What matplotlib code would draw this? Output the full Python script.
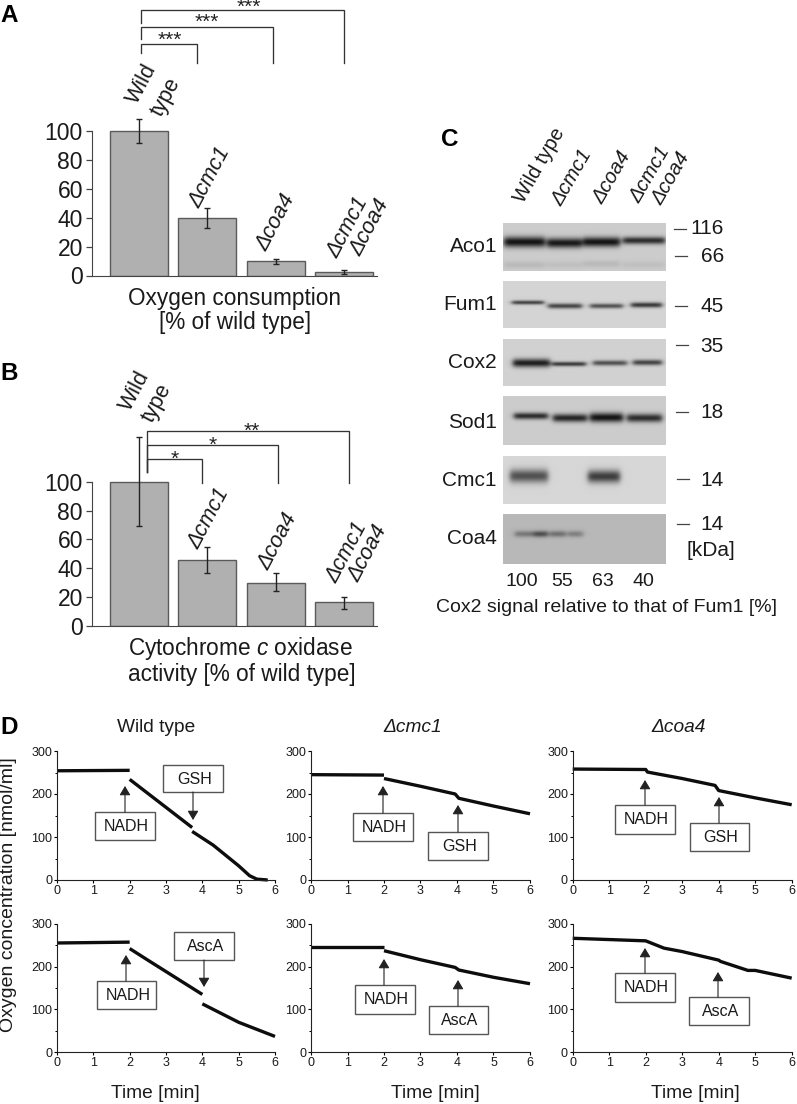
import numpy as np
import matplotlib
matplotlib.use("Agg")
import matplotlib.pyplot as plt
from matplotlib.patches import Rectangle

plt.rcParams['font.family'] = ['Liberation Sans', 'DejaVu Sans']
plt.rcParams['mathtext.fontset'] = 'custom'
plt.rcParams['mathtext.rm'] = 'Liberation Sans'
plt.rcParams['mathtext.it'] = 'Liberation Sans:italic'

W, H = 797, 1104
INK = '#1a1a1a'

# ---- data ----
strains = ['Wild type', 'Δcmc1', 'Δcoa4', 'Δcmc1 Δcoa4']
oxygen_values = [100, 40, 10, 2.5]
oxygen_low = [92, 33, 8, 1]
oxygen_high = [108, 47, 11.5, 3.5]
cox_values = [100, 46, 30, 16.5]
cox_low = [69, 37, 24, 12]
cox_high = [131, 55, 37, 20]
bar_ticks = [0, 20, 40, 60, 80, 100]

kda_labels = ['116', '66', '45', '35', '18', '14', '14']
blot_names = ['Aco1', 'Fum1', 'Cox2', 'Sod1', 'Cmc1', 'Coa4']
cox2_ratio = ['100', '55', '63', '40']

wt_gsh_t = [[0, 2], [2.0, 3.72], [3.72, 4.3, 5.0, 5.3, 5.5, 5.8]]
wt_gsh_o = [[254, 255], [234, 122], [113, 81, 33, 10, 2, 0]]
wt_asc_t = [[0, 2], [2.0, 2.5, 4.0], [4.0, 5.0, 6.0]]
wt_asc_o = [[255, 257], [242, 215, 135], [113, 70, 37]]
cmc_gsh_t = [[0, 2], [2.0, 3, 3.95, 4.05, 5.0, 6.0]]
cmc_gsh_o = [[245, 244], [236, 218, 200, 190, 172, 154]]
cmc_asc_t = [[0, 2], [2.0, 3, 3.95, 4.05, 5.0, 6.0]]
cmc_asc_o = [[246, 246], [237, 216, 198, 192, 175, 160]]
coa_gsh_t = [[0, 1.9, 2.0, 2.05, 3.0, 3.9, 4.0, 5.0, 6.0]]
coa_gsh_o = [[258, 257, 257, 251, 236, 220, 208, 191, 175]]
coa_asc_t = [[0, 1.0, 2.0, 2.5, 3.0, 4.0, 4.05, 4.8, 5.0, 6.0]]
coa_asc_o = [[266, 263, 260, 243, 235, 215, 212, 191, 191, 173]]
time_ticks = [0, 1, 2, 3, 4, 5, 6]
o2_ticks = [0, 100, 200, 300]


def px_axes(x0, x1, ytop, ybot, **kw):
    return fig.add_axes([x0 / W, 1 - ybot / H, (x1 - x0) / W, (ybot - ytop) / H], **kw)


fig = plt.figure(figsize=(W / 100, H / 100), dpi=100, facecolor='white')


def bar_panel(y0px, y100px, vals, lo, hi):
    per = (y0px - y100px) / 100
    top = y0px - 135 * per
    ax = px_axes(92, 377, top, y0px)
    ax.patch.set_alpha(0)
    ax.set_xlim(-0.688, 3.48)
    ax.set_ylim(0, 135)
    xs = np.arange(len(vals))
    ax.bar(xs, vals, width=0.85, color='#b0b0b0', edgecolor='#5a5a5a', linewidth=1.0)
    v = np.array(vals)
    ax.errorbar(xs, vals, yerr=[v - np.array(lo), np.array(hi) - v], fmt='none',
                ecolor='#222222', elinewidth=1.0, capsize=2.2, capthick=1.0)
    for s in ['top', 'right']:
        ax.spines[s].set_visible(False)
    ax.spines['left'].set_bounds(0, 100)
    ax.spines['left'].set_color('#444444')
    ax.spines['bottom'].set_color('#444444')
    ax.set_xticks([])
    ax.set_yticks(bar_ticks)
    ax.tick_params(axis='y', length=4.5, width=0.9, labelsize=16.5, pad=2, color='#444444', labelcolor=INK)
    return ax


bar_panel(275.5, 131, oxygen_values, oxygen_low, oxygen_high)
bar_panel(626, 481.7, cox_values, cox_low, cox_high)

# ---- panel D ----
cols = [(57, 275), (311, 530), (572.7, 791.7)]
rows = [(751, 880), (923.7, 1052.3)]
series = [[(wt_gsh_t, wt_gsh_o), (cmc_gsh_t, cmc_gsh_o), (coa_gsh_t, coa_gsh_o)],
          [(wt_asc_t, wt_asc_o), (cmc_asc_t, cmc_asc_o), (coa_asc_t, coa_asc_o)]]
for r, (yt, yb) in enumerate(rows):
    for c, (xl, xr) in enumerate(cols):
        ax = px_axes(xl, xr, yt, yb)
        ax.patch.set_alpha(0)
        ax.set_xlim(0, 6)
        ax.set_ylim(0, 300)
        for t, o in zip(*series[r][c]):
            ax.plot(t, o, color='#0d0d0d', lw=2.4, solid_capstyle='butt', clip_on=False)
        for s in ['top', 'right']:
            ax.spines[s].set_visible(False)
        ax.spines['left'].set_color('#222222')
        ax.spines['bottom'].set_color('#222222')
        ax.set_xticks(time_ticks)
        ax.set_yticks(o2_ticks)
        ax.set_yticks([50, 150, 250], minor=True)
        ax.tick_params(axis='both', which='major', length=2.2, width=0.8, labelsize=9,
                       pad=1.2, labelcolor=INK)
        ax.tick_params(axis='y', which='minor', length=1.5, width=0.7)

# ---- overlay in pixel coordinates ----
ov = fig.add_axes([0, 0, 1, 1])
ov.patch.set_alpha(0)
ov.axis('off')


def T(x, y, s, size=16.3, ha='center', va='center', **kw):
    kw.setdefault('color', INK)
    ov.text(x, y, s, fontsize=size, ha=ha, va=va, **kw)


def rot(x, y, s, size=15.5, angle=62):
    T(x, y, s, size=size, rotation=angle, rotation_mode='anchor', style='italic' if 'Δ' in s else 'normal')


# panel letters
for x, y, s in [(0, 15, 'A'), (0, 373, 'B'), (441, 139, 'C'), (0, 727, 'D')]:
    T(x, y, s, size=17.5, ha='left', weight='bold', color='black')

# bar labels
for x, y, s in [(142, 84, 'Wild'), (166, 97, 'type'), (210, 177, 'Δcmc1'), (276, 222, 'Δcoa4'),
                (348, 227, 'Δcmc1'), (370, 227, 'Δcoa4'),
                (135, 391, 'Wild'), (157, 403, 'type'), (209, 518, 'Δcmc1'), (278, 541, 'Δcoa4'),
                (347, 552, 'Δcmc1'), (368, 553, 'Δcoa4')]:
    rot(x, y, s)
T(235, 298, 'Oxygen consumption')
T(235, 323, '[% of wild type]')
T(128, 648, r'Cytochrome $\mathit{c}$ oxidase', ha='left')
T(128, 675, 'activity [% of wild type]', ha='left')


# brackets
def bracket(xl, xr, y, yl, yr):
    ov.plot([xl, xl, xr, xr], [yl, y, y, yr], color='#333333', lw=0.95, solid_joinstyle='miter')


bracket(141, 344, 10, 23, 63)
bracket(141, 273, 27, 39, 63)
bracket(141, 197, 44, 53, 63)
for x, y, s in [(249, 7, '***'), (207, 22, '***'), (170, 40, '***'),
                (252, 431, '**'), (213, 445, '*'), (175, 459, '*')]:
    T(x, y, s, size=15, color='#222222')
bracket(146.7, 349, 431, 472, 483)
bracket(146.7, 278, 445, 472, 483)
bracket(146.7, 202, 459, 472, 483)


# blots
def blot(y0, y1, bg, bands):
    x0, x1 = 503, 666
    xx, yy = np.meshgrid(np.arange(x0, x1) + .5, np.arange(y0, y1) + .5)
    img = np.full(xx.shape, bg, dtype=float)
    for a, b, yc, sig, d in bands:
        env = 0.5 * (np.tanh((xx - a) / 3.0) - np.tanh((xx - b) / 3.0))
        img -= d * env * np.exp(-0.5 * ((yy - yc) / (sig * 1.25)) ** 2)
    ov.imshow(np.clip(img, 0, 1), extent=(x0, x1, y1, y0), cmap='gray', vmin=0, vmax=1,
              aspect='auto', interpolation='bilinear', zorder=1)


blot(223, 271, .80, [(504, 545, 242, 3.0, .72), (547, 582, 243, 2.8, .70), (583, 620, 242, 2.8, .72),
                     (623, 665, 240.5, 2.1, .62),
                     (504, 545, 265, 2.0, .07), (547, 582, 265, 2.0, .05), (583, 620, 264, 2.0, .07),
                     (623, 665, 265, 2.0, .05)])
blot(281, 328, .83, [(512, 544, 302.5, 1.2, .55), (548, 582, 306, 1.5, .55), (590, 623, 306, 1.4, .50),
                     (631, 662, 305, 1.5, .60)])
blot(339, 386, .82, [(513, 550, 363, 2.4, .70), (552, 586, 364, 1.3, .58), (593, 627, 363, 1.5, .50),
                     (633, 662, 362.5, 1.6, .55)])
blot(396, 445, .80, [(514, 548, 416, 1.9, .62), (553, 587, 418, 2.3, .65), (590, 623, 417.5, 2.7, .72),
                     (627, 662, 418, 2.4, .62)])
blot(456, 504, .84, [(510, 548, 476, 3.8, .52), (588, 620, 476.5, 3.6, .60)])
blot(514, 564, .72, [(515, 534, 534, 1.8, .25), (534, 548, 534, 1.8, .42), (550, 566, 534, 1.8, .28),
                     (568, 583, 534, 1.8, .22)])

for y, s in zip([247, 305, 363, 422, 480, 538], blot_names):
    T(497, y, s, size=15, ha='right')
for x, y, s in [(540, 165, 'Wild type'), (572, 178, 'Δcmc1'), (612, 177, 'Δcoa4'),
                (650, 175, 'Δcmc1'), (671, 178, 'Δcoa4')]:
    rot(x, y, s, size=14.5, angle=60)

for y, dy, xa, s in zip([229, 256, 307, 347, 413, 480, 525], [229, 256, 306, 345, 412, 479, 524],
                        [674, 675, 675, 676, 676, 677, 677], kda_labels):
    T(724, y, s, size=15, ha='right')
    ov.plot([xa, xa + 12], [dy, dy], color='#444444', lw=0.9)
T(735, 550, '[kDa]', size=15, ha='right')
for x, s in zip([522, 562, 603, 643], cox2_ratio):
    T(x, 581, s, size=14)
T(607, 607, 'Cox2 signal relative to that of Fum1 [%]', size=14)

# panel D text
T(156, 727, 'Wild type', size=13.8)
T(413, 727, 'Δcmc1', size=13.8, style='italic')
T(679, 727, 'Δcoa4', size=13.8, style='italic')
for x in [155, 435, 695]:
    T(x, 1093, 'Time [min]', size=13.8)
T(9, 895, 'Oxygen concentration [nmol/ml]', size=14, rotation=90)


def callout(x0, x1, y0, y1, s, ax_x, start, tip):
    ov.add_patch(Rectangle((x0, y0), x1 - x0, y1 - y0, facecolor='white', edgecolor='#555555',
                           lw=1.0, zorder=4))
    T((x0 + x1) / 2 + 1.5, (y0 + y1) / 2 + 0.5, s, size=11.5, zorder=5)
    ov.annotate('', xy=(ax_x, tip), xytext=(ax_x, start), zorder=5,
                arrowprops=dict(arrowstyle='-|>,head_length=0.55,head_width=0.33', color='#222222',
                                lw=0.8, shrinkA=0, shrinkB=0))


callout(163, 223, 765, 792, 'GSH', 193, 792, 820)
callout(95, 155, 812, 840, 'NADH', 125, 812, 786)
callout(174, 234, 932, 960, 'AscA', 204, 960, 987)
callout(97, 156, 981, 1009, 'NADH', 126, 981, 955)
callout(353, 413, 813, 841, 'NADH', 383, 813, 786)
callout(428, 488, 832, 860, 'GSH', 458, 832, 805)
callout(355, 415, 985, 1014, 'NADH', 384, 985, 959)
callout(429, 488, 1006, 1034, 'AscA', 458, 1006, 980)
callout(615, 675, 805, 834, 'NADH', 645, 805, 780)
callout(690, 749, 823, 851, 'GSH', 719, 823, 797)
callout(615, 675, 973, 1002, 'NADH', 645, 973, 948)
callout(689, 749, 997, 1025, 'AscA', 718, 997, 972)

ov.set_xlim(0, W)
ov.set_ylim(H, 0)
fig.savefig('out.png', dpi=100, facecolor='white')
